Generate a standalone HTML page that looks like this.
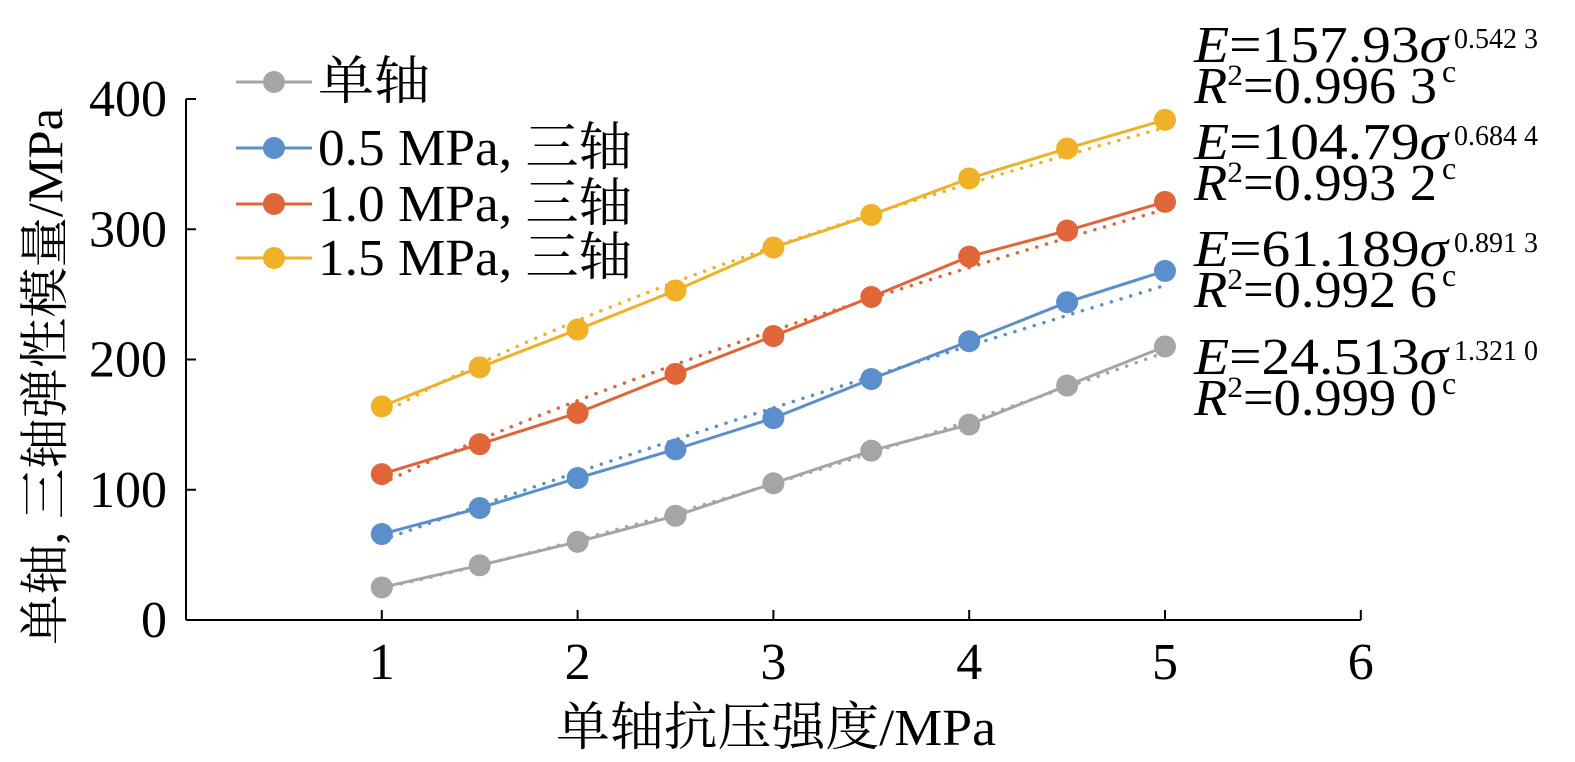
<!DOCTYPE html>
<html><head><meta charset="utf-8"><style>
body{margin:0;background:#fff}
svg{display:block;font-family:"Liberation Serif","Noto Serif CJK SC",serif}
</style></head><body>
<svg id="chart" width="1575" height="762" viewBox="0 0 1575 762" xmlns="http://www.w3.org/2000/svg">
<g id="axes"></g>
<g id="plot"></g>
<g id="legend"></g>
<g id="ann"></g>
</svg>
<script>
const categories=[1,1.5,2,2.5,3,3.5,4,4.5,5];
const uniaxial=[25,42,60,80,105,130,150,180,210];
const tri05=[66,86,109,131,155,185,214,244,268];
const tri10=[112,135,159,189,218,248,279,299,321];
const tri15=[164,194,223,253,286,311,339,362,384];
const seriesNames=["单轴","0.5 MPa, 三轴","1.0 MPa, 三轴","1.5 MPa, 三轴"];
const fitA=[24.513,61.189,104.79,157.93];
const fitB=[1.3210,0.8913,0.6844,0.5423];
const fitALabel=["24.513","61.189","104.79","157.93"];
const fitBLabel=["1.321 0","0.891 3","0.684 4","0.542 3"];
const r2Label=["0.999 0","0.992 6","0.993 2","0.996 3"];
const xTicks=[1,2,3,4,5,6];
const yTicks=[0,100,200,300,400];
const colors=["#a5a5a5","#5b8fcc","#e0663a","#f0b126"];
const series=[uniaxial,tri05,tri10,tri15];
const NS="http://www.w3.org/2000/svg";
const X=v=>186+v*195.8, Y=v=>620-v*1.3025;
function mk(tag,attrs,parent,txt){const e=document.createElementNS(NS,tag);for(const k in attrs)e.setAttribute(k,attrs[k]);if(txt!==undefined)e.textContent=txt;parent.appendChild(e);return e;}
const axes=document.getElementById('axes'),plot=document.getElementById('plot'),leg=document.getElementById('legend'),ann=document.getElementById('ann');
let e=mk('line',{x1:186,y1:Y(0),x2:X(6),y2:Y(0),stroke:'#000','stroke-width':2},axes);

e=mk('line',{x1:186,y1:Y(0),x2:186,y2:Y(400),stroke:'#000','stroke-width':2},axes);

xTicks.forEach(t=>{
 e=mk('line',{x1:X(t),y1:620,x2:X(t),y2:610,stroke:'#000','stroke-width':2},axes);
 
 e=mk('text',{x:X(t),y:679,'font-size':52,'text-anchor':'middle'},axes,String(t));
 
});
yTicks.forEach(t=>{
 e=mk('line',{x1:186,y1:Y(t),x2:196,y2:Y(t),stroke:'#000','stroke-width':2},axes);
 
 e=mk('text',{x:167,y:Y(t)+17,'font-size':52,'text-anchor':'end'},axes,String(t));
 
});
e=mk('text',{x:556,y:745,'font-size':52,textLength:440,lengthAdjust:'spacingAndGlyphs'},axes,'单轴抗压强度/MPa');

e=mk('text',{x:0,y:0,'font-size':50,textLength:537,lengthAdjust:'spacingAndGlyphs',transform:'translate(62,645) rotate(-90)'},axes,'单轴, 三轴弹性模量/MPa');

series.forEach((vals,i)=>{
 let pts=[];for(let s=categories[0];s<=categories[categories.length-1]+1e-9;s+=0.05)pts.push(X(s)+','+Y(fitA[i]*Math.pow(s,fitB[i])));
 e=mk('polyline',{points:pts.join(' '),fill:'none',stroke:colors[i],'stroke-width':3.5,'stroke-dasharray':'0.1 10','stroke-linecap':'round'},plot);
 
 e=mk('polyline',{points:vals.map((v,j)=>X(categories[j])+','+Y(v)).join(' '),fill:'none',stroke:colors[i],'stroke-width':3},plot);
 
 vals.forEach((v,j)=>{
  e=mk('circle',{cx:X(categories[j]),cy:Y(v),r:11,fill:colors[i]},plot);
  
 });
});
const legY=[82,148,204,258];
const legW=[112,314,314,314];
seriesNames.forEach((n,i)=>{
 const y=legY[i];
 e=mk('line',{x1:236,y1:y,x2:312,y2:y,stroke:colors[i],'stroke-width':3},leg);
 
 e=mk('circle',{cx:274,cy:y,r:11,fill:colors[i]},leg);
 
 e=mk('text',{x:318,y:y+17,'font-size':52,textLength:legW[i],lengthAdjust:'spacingAndGlyphs'},leg,n);
 
});
const annBase=[374,266,159,62];
fitA.forEach((a,i)=>{
 const b=annBase[i];
 e=mk('text',{x:1194,y:b,'font-size':52,textLength:254,lengthAdjust:'spacingAndGlyphs'},ann);
 
 mk('tspan',{'font-style':'italic'},e,'E');
 mk('tspan',{},e,'='+fitALabel[i]);
 mk('tspan',{'font-style':'italic'},e,'σ');
 e=mk('text',{x:1442,y:b+20,'font-size':32},ann,'c');
 
 e=mk('text',{x:1454,y:b-14,'font-size':28},ann,fitBLabel[i]);
 
 e=mk('text',{x:1194,y:b+41,'font-size':52,textLength:243,lengthAdjust:'spacingAndGlyphs'},ann);
 
 mk('tspan',{'font-style':'italic'},e,'R');
 mk('tspan',{'font-size':30,dy:-18},e,'2');
 mk('tspan',{dy:18},e,'='+r2Label[i]);
});
</script>
</body></html>
